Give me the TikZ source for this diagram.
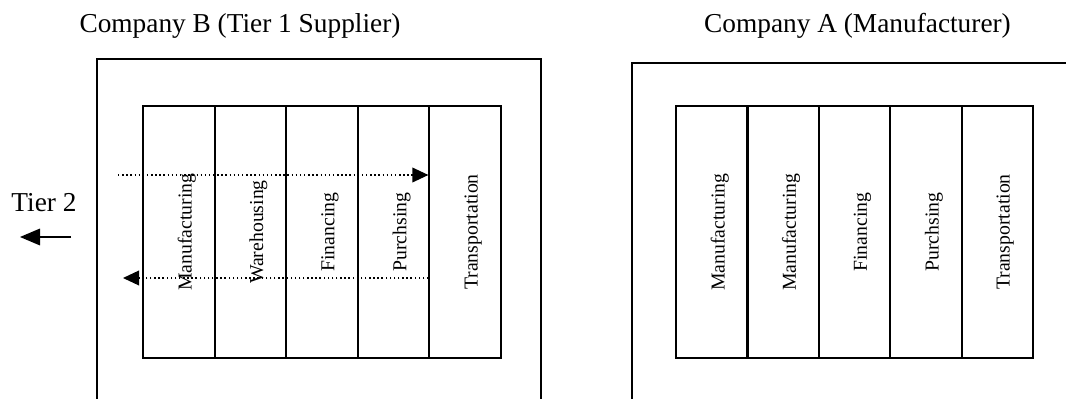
\documentclass[tikz,border=0pt]{standalone}
\usepackage{fontspec}
\setmainfont{Liberation Serif}
\usetikzlibrary{arrows.meta,calc}

\begin{document}
\begin{tikzpicture}[x=0.75pt,y=0.75pt,yscale=-1,xscale=1,
    frame/.style={line width=1.5pt},
    cell/.style={draw,line width=1.5pt,minimum width=53.7pt,minimum height=189pt,inner sep=0pt},
    lbl/.style={rotate=90,inner sep=0.75pt,font=\fontsize{14.8}{18}\selectfont},
    title/.style={anchor=base,inner sep=0.75pt,font=\fontsize{20.5}{24}\selectfont},
    flow/.style={dotted,line width=1.1pt,-{Triangle[length=12pt,width=11pt]}},
    back/.style={line width=0.9pt,-{Triangle[length=15pt,width=12.5pt]}}]
    \useasboundingbox (0,0) rectangle (1066,399);

    %Shape: Frame Company B
    \draw [frame] (97,399) -- (97,59) -- (541,59) -- (541,399) ;
    %Shape: Frame Company A
    \draw [frame] (632,399) -- (632,63) -- (1066,63) ;

    % Text Node
    \node [title] (compB) at (240,33) {Company B (Tier 1 Supplier)};
    % Text Node
    \node [title] (compA) at (857.5,33) {Company A (Manufacturer)};
    % Text Node
    \node [inner sep=0.75pt,font=\fontsize{20.5}{24}\selectfont] (tier) at (44,203) {Tier 2};

    %Shape: Cells Company B
    \node [cell] (b1) at (178.8,232) {};
    \node [cell] (b2) at (250.4,232) {};
    \node [cell] (b3) at (322.0,232) {};
    \node [cell] (b4) at (393.6,232) {};
    \node [cell] (b5) at (465.2,232) {};
    %Shape: Cells Company A
    \node [cell] (a1) at (711.7,232) {};
    \node [cell] (a2) at (783.1,232) {};
    \node [cell] (a3) at (854.5,232) {};
    \node [cell] (a4) at (925.9,232) {};
    \node [cell] (a5) at (997.3,232) {};

    % Text Node
    \node [lbl] (lb1) at ([xshift=6pt]b1.center) {Manufacturing};
    \node [lbl] (lb2) at ([xshift=6pt]b2.center) {Warehousing};
    \node [lbl] (lb3) at ([xshift=6pt]b3.center) {Financing};
    \node [lbl] (lb4) at ([xshift=6pt]b4.center) {Purchsing};
    \node [lbl] (lb5) at ([xshift=6pt]b5.center) {Transportation};
    % Text Node
    \node [lbl] (la1) at ([xshift=6pt]a1.center) {Manufacturing};
    \node [lbl] (la2) at ([xshift=6pt]a2.center) {Manufacturing};
    \node [lbl] (la3) at ([xshift=6pt]a3.center) {Financing};
    \node [lbl] (la4) at ([xshift=6pt]a4.center) {Purchsing};
    \node [lbl] (la5) at ([xshift=6pt]a5.center) {Transportation};

    %Straight Lines
    \coordinate (fwdstart) at (118,175) ;
    \coordinate (backend) at (123,278) ;
    \draw [flow] (fwdstart) -- (b5.west |- fwdstart) ;
    \draw [flow] (b5.west |- backend) -- (backend) ;
    %Straight Lines
    \coordinate (tierR) at (71,237) ;
    \coordinate (tierL) at (20,237) ;
    \draw [back] (tierR) -- (tierL) ;

\end{tikzpicture}
\end{document}
